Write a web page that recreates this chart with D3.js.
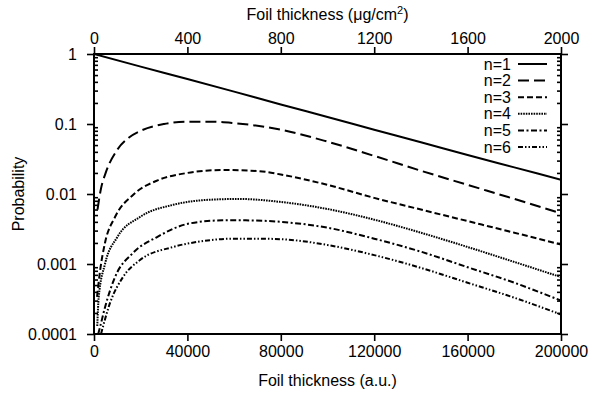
<!DOCTYPE html>
<html><head><meta charset="utf-8">
<script src="https://cdn.jsdelivr.net/npm/d3@7"></script>
<style>
body{margin:0;background:#fff;}
text{font-family:"Liberation Sans",Arial,Helvetica,sans-serif;font-size:16px;fill:#000;}
</style></head>
<body><svg id="c" width="589" height="397"></svg>
<script>
// ---- data ----
const xTicksBottom = [0, 40000, 80000, 120000, 160000, 200000];
const xTicksTop = [0, 400, 800, 1200, 1600, 2000];
const yTicks = [1, 0.1, 0.01, 0.001, 0.0001];
const yTickLabels = ["1", "0.1", "0.01", "0.001", "0.0001"];
const seriesNames = ["n=1", "n=2", "n=3", "n=4", "n=5", "n=6"];

const n1 = [[0,1],[20000,0.66],[40000,0.44],[60000,0.29],[80000,0.19],[100000,0.126],[120000,0.083],[140000,0.055],[160000,0.036],[180000,0.024],[200000,0.016]];
const n2 = [[1500,0.006],[3000,0.012],[5000,0.02],[10000,0.043],[15000,0.064],[20000,0.08],[30000,0.1],[40000,0.108],[50000,0.108],[60000,0.103],[80000,0.083],[100000,0.056],[120000,0.035],[140000,0.0215],[160000,0.0135],[180000,0.0085],[200000,0.0053]];
const n3 = [[1300,0.00034],[2600,0.0008],[4700,0.002],[9000,0.0047],[16700,0.0097],[27500,0.0158],[40000,0.02],[55000,0.022],[70000,0.0213],[80000,0.019],[100000,0.0135],[120000,0.0088],[140000,0.006],[160000,0.0041],[180000,0.0028],[200000,0.0019]];
const n4 = [[1400,0.00013],[2000,0.00033],[4700,0.001],[9900,0.0024],[19700,0.0047],[33900,0.007],[50000,0.0083],[62000,0.0085],[80000,0.0077],[100000,0.0061],[120000,0.0043],[140000,0.0028],[160000,0.00175],[180000,0.00107],[200000,0.00065]];
const n5 = [[1800,0.0001],[2600,0.000126],[4700,0.00024],[9000,0.00065],[16700,0.00144],[27000,0.00243],[41000,0.0038],[55000,0.0042],[65000,0.0042],[80000,0.004],[100000,0.0033],[120000,0.0023],[140000,0.0015],[160000,0.0009],[180000,0.00054],[200000,0.0003]];
const n6 = [[3000,0.0001],[6900,0.00028],[12400,0.00065],[19700,0.00114],[33900,0.00175],[45500,0.0021],[60000,0.0023],[70000,0.0023],[80000,0.00226],[100000,0.00187],[120000,0.00134],[140000,0.00088],[160000,0.00054],[180000,0.00033],[200000,0.00019]];

const seriesData = [n1, n2, n3, n4, n5, n6];
const dashes = [null, "11,5", "6,3", "1.6,1", "6,2.5,2,2.5", "5,2,1.5,2,1.5,2"];

// ---- layout ----
const L = 94, R = 561, T = 54, B = 334;
const svg = d3.select("#c");
const x = d3.scaleLinear().domain([0, 200000]).range([L, R]);
const xTop = d3.scaleLinear().domain([0, 2000]).range([L, R]);
const y = d3.scaleLog().domain([0.0001, 1]).range([B, T]);

// minor y ticks
const minor = [];
for (let e = -4; e < 0; e++) for (let m = 2; m <= 9; m++) minor.push(m * Math.pow(10, e));

svg.append("defs").append("clipPath").attr("id", "clip")
  .append("rect").attr("x", L).attr("y", T).attr("width", R - L).attr("height", B - T);

// curves
const line = d3.line().x(d => x(d[0])).y(d => y(d[1])).curve(d3.curveMonotoneX);
const g = svg.append("g").attr("clip-path", "url(#clip)");
seriesData.forEach((s, i) => {
  g.append("path").attr("d", line(s)).attr("fill", "none").attr("stroke", "#000")
    .attr("stroke-width", 2).attr("stroke-dasharray", dashes[i]);
});

// axes
function styleAxis(sel) {
  sel.selectAll(".domain").remove();
  sel.selectAll(".tick line").attr("stroke", "#000").attr("stroke-width", 1.6);
  sel.selectAll("text").style("font-size", "16px").attr("fill", "#000");
}
svg.append("g").attr("transform", `translate(0,${B})`)
  .call(d3.axisBottom(x).tickValues(xTicksBottom).tickFormat(d3.format("d")).tickSize(7).tickPadding(5))
  .call(styleAxis);
svg.append("g").attr("transform", `translate(0,${T})`)
  .call(d3.axisTop(xTop).tickValues(xTicksTop).tickFormat(d3.format("d")).tickSize(7).tickPadding(3))
  .call(styleAxis);
svg.append("g").attr("transform", `translate(${L},0)`)
  .call(d3.axisLeft(y).tickValues(yTicks).tickFormat((d, i) => yTickLabels[i]).tickSize(7).tickPadding(10))
  .call(styleAxis);
svg.append("g").attr("transform", `translate(${R},0)`)
  .call(d3.axisRight(y).tickValues(yTicks).tickFormat("").tickSize(7))
  .call(styleAxis);
svg.append("g").attr("transform", `translate(${L},0)`)
  .call(d3.axisRight(y).tickValues(minor).tickFormat("").tickSize(4))
  .call(styleAxis);
svg.append("g").attr("transform", `translate(${R},0)`)
  .call(d3.axisLeft(y).tickValues(minor).tickFormat("").tickSize(4))
  .call(styleAxis);

// frame
svg.append("rect").attr("x", L).attr("y", T).attr("width", R - L).attr("height", B - T)
  .attr("fill", "none").attr("stroke", "#000").attr("stroke-width", 2);

// titles
svg.append("text").attr("x", (L + R) / 2).attr("y", 386).attr("text-anchor", "middle")
  .text("Foil thickness (a.u.)");
const tt = svg.append("text").attr("x", (L + R) / 2).attr("y", 20).attr("text-anchor", "middle");
tt.append("tspan").text("Foil thickness (μg/cm");
tt.append("tspan").attr("dy", -6).style("font-size", "11px").text("2");
tt.append("tspan").attr("dy", 6).text(")");
svg.append("text").attr("transform", `translate(24,${(T + B) / 2}) rotate(-90)`)
  .attr("text-anchor", "middle").text("Probability");

// legend
const leg = svg.append("g");
seriesNames.forEach((name, i) => {
  const yy = 64 + i * 16.6;
  leg.append("text").attr("x", 511).attr("y", yy).attr("dy", "0.35em")
    .attr("text-anchor", "end").text(name);
  leg.append("line").attr("x1", 518).attr("x2", 547).attr("y1", yy).attr("y2", yy)
    .attr("stroke", "#000").attr("stroke-width", 2).attr("stroke-dasharray", dashes[i]);
});
</script></body></html>
